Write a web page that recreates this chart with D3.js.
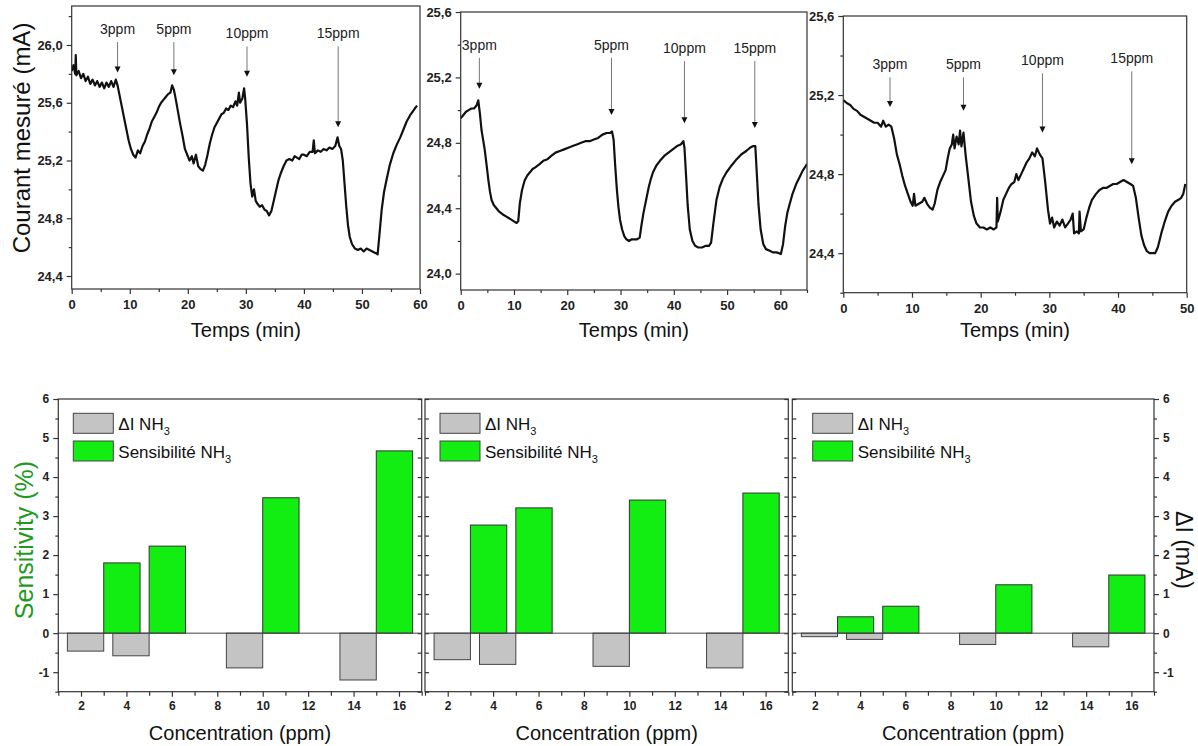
<!DOCTYPE html>
<html>
<head>
<meta charset="utf-8">
<script src="https://d3js.org/d3.v7.min.js"></script>
<style>
    body { margin: 0; background: #fff; }
    text { font-family: Arial, "Liberation Sans", sans-serif; }
</style>
</head>
<body>
<svg width="1198" height="746"></svg>
<script>
// courant mesuré (mA) en fonction du temps (min), un tableau [t, I] par capteur
var curve1 = [[0,25.82],[0.3,25.86],[0.6,25.80],[0.7,25.93],[0.8,25.79],[1.2,25.82],[1.6,25.77],[2.0,25.80],[2.4,25.75],[2.8,25.78],
    [3.2,25.73],[3.6,25.76],[4.0,25.72],[4.4,25.75],[4.8,25.71],[5.2,25.74],[5.6,25.70],[6.0,25.74],[6.4,25.71],[6.8,25.75],
    [7.2,25.71],[7.6,25.76],[7.9,25.72],[8.2,25.66],[8.6,25.58],[9.0,25.50],[9.4,25.42],[9.8,25.34],[10.2,25.28],[10.6,25.24],
    [11.0,25.22],[11.4,25.27],[11.8,25.25],[12.2,25.30],[12.6,25.33],[13.0,25.38],[13.4,25.42],[13.8,25.47],[14.2,25.50],[14.6,25.53],
    [15.0,25.57],[15.4,25.60],[15.8,25.62],[16.2,25.64],[16.6,25.66],[17.0,25.67],[17.3,25.72],[17.6,25.69],[17.9,25.63],[18.3,25.54],
    [18.7,25.45],[19.1,25.37],[19.5,25.28],[19.9,25.24],[20.3,25.20],[20.7,25.23],[21.0,25.18],[21.4,25.24],[21.8,25.16],[22.2,25.14],
    [22.6,25.13],[23.0,25.17],[23.4,25.24],[23.8,25.32],[24.2,25.38],[24.6,25.43],[25.0,25.46],[25.4,25.49],[25.8,25.52],[26.2,25.53],
    [26.6,25.56],[27.0,25.55],[27.4,25.58],[27.8,25.57],[28.2,25.61],[28.5,25.58],[28.8,25.67],[29.0,25.60],[29.4,25.63],[29.7,25.70],
    [29.9,25.62],[30.2,25.45],[30.5,25.22],[30.8,25.04],[31.1,24.95],[31.4,25.00],[31.7,24.92],[32.0,24.90],[32.4,24.88],[32.8,24.89],
    [33.2,24.86],[33.6,24.85],[34.0,24.82],[34.4,24.85],[34.8,24.92],[35.2,24.99],[35.6,25.06],[36.0,25.11],[36.5,25.16],[37.0,25.20],
    [37.5,25.21],[38.0,25.20],[38.4,25.23],[38.8,25.22],[39.2,25.21],[39.6,25.24],[40.0,25.24],[40.5,25.23],[41.0,25.26],[41.5,25.26],
    [41.7,25.34],[41.9,25.25],[42.4,25.27],[42.9,25.26],[43.4,25.28],[43.9,25.27],[44.4,25.29],[44.9,25.28],[45.4,25.30],[45.8,25.36],
    [46.1,25.30],[46.4,25.28],[46.7,25.20],[47.0,25.04],[47.3,24.88],[47.6,24.75],[47.9,24.67],[48.3,24.62],[48.8,24.59],[49.3,24.58],
    [49.8,24.59],[50.3,24.57],[50.8,24.59],[51.3,24.58],[51.8,24.57],[52.3,24.56],[52.7,24.55],[53.0,24.68],[53.4,24.86],[53.8,24.98],
    [54.2,25.06],[54.8,25.17],[55.4,25.25],[56.0,25.31],[56.6,25.36],[57.2,25.42],[57.7,25.47],[58.4,25.52],[59.1,25.56],[59.5,25.58]];

var curve2 = [[0,24.95],[0.5,24.97],[1.0,24.99],[1.5,25.00],[2.0,25.01],[2.5,25.01],[3.0,25.03],[3.3,25.06],[3.6,24.98],[3.9,24.88],
    [4.2,24.82],[4.5,24.76],[4.8,24.68],[5.2,24.57],[5.5,24.50],[5.8,24.45],[6.2,24.42],[6.7,24.40],[7.2,24.38],[7.6,24.37],
    [8.0,24.36],[8.5,24.35],[9.0,24.34],[9.5,24.33],[10.0,24.32],[10.5,24.31],[10.8,24.32],[11.1,24.43],[11.5,24.51],[12.0,24.57],
    [12.5,24.60],[13.0,24.62],[13.5,24.64],[14.0,24.65],[14.8,24.67],[15.5,24.69],[16.3,24.70],[17.0,24.72],[17.8,24.74],[18.6,24.75],
    [19.4,24.76],[20.2,24.77],[21.0,24.78],[21.8,24.79],[22.6,24.80],[23.4,24.81],[24.2,24.81],[25.0,24.82],[25.8,24.83],[26.6,24.85],
    [27.4,24.86],[28.0,24.86],[28.4,24.87],[28.7,24.82],[29.0,24.66],[29.3,24.52],[29.6,24.41],[29.9,24.33],[30.3,24.27],[30.7,24.23],
    [31.1,24.21],[31.6,24.20],[32.1,24.21],[32.6,24.21],[33.1,24.21],[33.6,24.22],[33.9,24.29],[34.3,24.37],[34.8,24.45],[35.3,24.53],
    [35.7,24.58],[36.1,24.62],[36.7,24.66],[37.4,24.69],[38.2,24.72],[39.0,24.74],[39.8,24.76],[40.6,24.78],[41.3,24.79],[41.8,24.81],
    [42.0,24.77],[42.3,24.60],[42.6,24.42],[43.0,24.27],[43.5,24.20],[44.0,24.17],[44.6,24.16],[45.3,24.16],[46.0,24.17],[46.6,24.17],
    [47.0,24.19],[47.4,24.30],[48.0,24.45],[48.6,24.53],[49.2,24.58],[49.9,24.62],[50.8,24.66],[51.8,24.70],[52.7,24.73],[53.6,24.75],
    [54.3,24.77],[54.9,24.78],[55.3,24.78],[55.6,24.60],[55.9,24.42],[56.3,24.27],[56.8,24.18],[57.3,24.15],[58.0,24.14],[58.6,24.13],
    [59.3,24.13],[60.1,24.12],[60.5,24.18],[60.9,24.29],[61.3,24.37],[61.7,24.42],[62.3,24.49],[63.0,24.55],[63.6,24.59],[64.2,24.63],
    [65.0,24.67]];

var curve3 = [[0,25.175],[0.5,25.16],[1.0,25.15],[1.5,25.13],[2.0,25.12],[2.5,25.10],[3.0,25.09],[3.5,25.08],[4.0,25.07],[4.5,25.06],
    [5.0,25.06],[5.5,25.04],[5.8,25.07],[6.2,25.04],[6.6,25.05],[7.0,25.04],[7.4,24.98],[7.8,24.90],[8.2,24.85],[8.6,24.79],
    [9.0,24.74],[9.4,24.70],[9.8,24.66],[10.1,24.64],[10.3,24.70],[10.5,24.64],[11.0,24.65],[11.5,24.66],[11.8,24.68],[12.2,24.65],
    [12.6,24.63],[13.0,24.62],[13.3,24.65],[13.7,24.72],[14.1,24.76],[14.5,24.79],[14.9,24.82],[15.2,24.88],[15.5,24.93],[15.8,24.95],
    [16.0,25.00],[16.2,24.93],[16.5,24.99],[16.8,24.95],[17.0,25.02],[17.2,24.94],[17.5,25.01],[17.8,24.90],[18.2,24.78],[18.6,24.66],
    [19.0,24.59],[19.4,24.55],[19.9,24.53],[20.4,24.53],[20.9,24.52],[21.4,24.53],[21.9,24.52],[22.3,24.53],[22.4,24.68],[22.5,24.56],
    [22.9,24.61],[23.3,24.67],[23.7,24.70],[24.1,24.73],[24.5,24.75],[24.9,24.76],[25.2,24.80],[25.5,24.77],[25.9,24.80],[26.3,24.83],
    [26.7,24.86],[27.1,24.88],[27.5,24.91],[27.9,24.89],[28.2,24.93],[28.6,24.90],[29.0,24.88],[29.4,24.76],[29.8,24.62],[30.1,24.55],
    [30.4,24.58],[30.7,24.53],[31.1,24.56],[31.5,24.54],[31.9,24.57],[32.3,24.53],[32.7,24.55],[33.1,24.57],[33.4,24.60],[33.6,24.50],
    [34.0,24.51],[34.3,24.50],[34.4,24.61],[34.6,24.51],[35.0,24.52],[35.4,24.58],[35.8,24.63],[36.2,24.67],[36.8,24.70],[37.3,24.72],
    [37.8,24.73],[38.3,24.73],[38.8,24.74],[39.3,24.75],[39.8,24.75],[40.3,24.76],[40.8,24.77],[41.3,24.76],[41.8,24.75],[42.2,24.74],
    [42.6,24.68],[43.0,24.58],[43.4,24.49],[43.8,24.44],[44.2,24.41],[44.6,24.40],[45.0,24.40],[45.4,24.40],[45.8,24.43],[46.3,24.50],
    [46.8,24.56],[47.3,24.61],[47.8,24.64],[48.3,24.66],[48.8,24.67],[49.2,24.68],[49.5,24.70],[49.8,24.75]];

// injections NH3 : [étiquette, t, I début flèche, I pointe]
var arrows1 = [["3ppm", 7.9, 26.02, 25.81], ["5ppm", 17.6, 26.02, 25.79], ["10ppm", 30.2, 25.99, 25.78], ["15ppm", 45.9, 25.99, 25.43]];
var arrows2 = [["3ppm", 3.5, 25.32, 25.13], ["5ppm", 28.3, 25.32, 24.97], ["10ppm", 42.0, 25.30, 24.92], ["15ppm", 55.2, 25.30, 24.89]];
var arrows3 = [["3ppm", 6.8, 25.29, 25.14], ["5ppm", 17.5, 25.29, 25.12], ["10ppm", 29.0, 25.31, 25.01], ["15ppm", 42.0, 25.32, 24.85]];

var timeTicks1 = [0, 10, 20, 30, 40, 50, 60];
var timeTicks2 = [0, 10, 20, 30, 40, 50, 60];
var timeTicks3 = [0, 10, 20, 30, 40, 50];
var currentTicks1 = [24.4, 24.8, 25.2, 25.6, 26.0];
var currentTicks2 = [24.0, 24.4, 24.8, 25.2, 25.6];
var currentTicks3 = [24.4, 24.8, 25.2, 25.6];

// histogrammes : sensibilité (%) et ΔI (mA)
var concentrations = [3, 5, 10, 15];
var sensA = [1.80, 2.23, 3.47, 4.67];
var deltaA = [-0.46, -0.58, -0.89, -1.20];
var sensB = [2.77, 3.21, 3.41, 3.59];
var deltaB = [-0.68, -0.80, -0.85, -0.89];
var sensC = [0.42, 0.69, 1.24, 1.49];
var deltaC = [-0.09, -0.16, -0.29, -0.35];
var concTicks = [2, 4, 6, 8, 10, 12, 14, 16];
var sensTicks = [-1, 0, 1, 2, 3, 4, 5, 6];

var svg = d3.select("svg");
var frameColor = "#333";
var comma = function(d) { return d3.format(".1f")(d).replace(".", ","); };
var plain = function(d) { return String(d); };

function styleAxis(sel, size) {
    sel.select(".domain").remove();
    sel.selectAll("line").attr("stroke", frameColor).attr("stroke-width", 1.2);
    sel.selectAll("text")
        .attr("font-family", "Arial, 'Liberation Sans', sans-serif")
        .attr("font-size", size)
        .attr("font-weight", "bold")
        .attr("fill", "#222");
}

function minorsOf(ticks, domain) {
    var step = (ticks[1] - ticks[0]) / 2;
    var out = [];
    var lo = Math.min(domain[0], domain[1]), hi = Math.max(domain[0], domain[1]);
    ticks.forEach(function(t) {
        [t - step, t + step].forEach(function(m) {
            m = Math.round(m * 1000) / 1000;
            if (m >= lo && m <= hi && ticks.indexOf(m) < 0 && out.indexOf(m) < 0) out.push(m);
        });
    });
    return out;
}

function drawTrace(cfg, i) {
    var x = d3.scaleLinear().domain(cfg.xDomain).range([cfg.left, cfg.right]);
    var y = d3.scaleLinear().domain(cfg.yDomain).range([cfg.bottom, cfg.top]);
    var g = svg.append("g");

    g.append("clipPath").attr("id", "clip" + i)
        .append("rect")
        .attr("x", cfg.left).attr("y", cfg.top)
        .attr("width", cfg.right - cfg.left).attr("height", cfg.bottom - cfg.top);

    g.append("g")
        .attr("transform", "translate(0," + cfg.bottom + ")")
        .call(d3.axisBottom(x).tickValues(cfg.xTicks).tickSize(5).tickPadding(6).tickFormat(plain))
        .call(styleAxis, 13);
    g.append("g")
        .attr("transform", "translate(0," + cfg.bottom + ")")
        .call(d3.axisBottom(x).tickValues(minorsOf(cfg.xTicks, cfg.xDomain)).tickSize(3).tickFormat(""))
        .call(styleAxis, 13);
    g.append("g")
        .attr("transform", "translate(" + cfg.left + ",0)")
        .call(d3.axisLeft(y).tickValues(cfg.yTicks).tickSize(5).tickPadding(4).tickFormat(comma))
        .call(styleAxis, 13);
    g.append("g")
        .attr("transform", "translate(" + cfg.left + ",0)")
        .call(d3.axisLeft(y).tickValues(minorsOf(cfg.yTicks, cfg.yDomain)).tickSize(3).tickFormat(""))
        .call(styleAxis, 13);

    g.append("path")
        .datum(cfg.data)
        .attr("clip-path", "url(#clip" + i + ")")
        .attr("fill", "none")
        .attr("stroke", "#111")
        .attr("stroke-width", 2.2)
        .attr("stroke-linejoin", "round")
        .attr("d", d3.line()
            .x(function(d) { return x(d[0]); })
            .y(function(d) { return y(d[1]); }));

    g.append("rect")
        .attr("x", cfg.left).attr("y", cfg.top)
        .attr("width", cfg.right - cfg.left).attr("height", cfg.bottom - cfg.top)
        .attr("fill", "none").attr("stroke", frameColor).attr("stroke-width", 1.2);

    var arr = g.selectAll(".arrow").data(cfg.arrows).enter().append("g");
    arr.append("line")
        .attr("x1", function(d) { return x(d[1]); })
        .attr("x2", function(d) { return x(d[1]); })
        .attr("y1", function(d) { return y(d[2]); })
        .attr("y2", function(d) { return y(d[3]) - 5; })
        .attr("stroke", "#777").attr("stroke-width", 1);
    arr.append("path")
        .attr("d", function(d) {
            var px = x(d[1]), py = y(d[3]);
            return "M" + (px - 3) + "," + (py - 6) + "L" + (px + 3) + "," + (py - 6) + "L" + px + "," + py + "Z";
        })
        .attr("fill", "#111");
    arr.append("text")
        .attr("x", function(d) { return x(d[1]); })
        .attr("y", function(d) { return y(d[2]) - 8; })
        .attr("text-anchor", "middle")
        .attr("font-size", 14)
        .attr("fill", "#222")
        .text(function(d) { return d[0]; });

    g.append("text")
        .attr("x", (cfg.left + cfg.right) / 2)
        .attr("y", 337)
        .attr("text-anchor", "middle")
        .attr("font-size", 20)
        .attr("fill", "#111")
        .text("Temps (min)");
}

var traces = [
    {data: curve1, arrows: arrows1, xDomain: [0, 60], yDomain: [24.31, 26.27], xTicks: timeTicks1, yTicks: currentTicks1,
        left: 71.7, right: 420, top: 6, bottom: 289},
    {data: curve2, arrows: arrows2, xDomain: [0, 65], yDomain: [23.9, 25.6], xTicks: timeTicks2, yTicks: currentTicks2,
        left: 460.7, right: 807, top: 12, bottom: 290},
    {data: curve3, arrows: arrows3, xDomain: [0, 50], yDomain: [24.2, 25.6], xTicks: timeTicks3, yTicks: currentTicks3,
        left: 843.3, right: 1186.7, top: 16, bottom: 292.7}
];
traces.forEach(drawTrace);

svg.append("text")
    .attr("transform", "translate(22,138) rotate(-90)")
    .attr("dy", "0.35em")
    .attr("text-anchor", "middle")
    .attr("font-size", 24)
    .attr("fill", "#111")
    .text("Courant mesuré (mA)");

// histogrammes
var barTop = 399, barBottom = 691.7, barWidth = 1.6;
var panels = [
    {sens: sensA, delta: deltaA, left: 58.3, right: 421.7, legendX: 73.3, leftAxis: true},
    {sens: sensB, delta: deltaB, left: 425, right: 788.3, legendX: 440},
    {sens: sensC, delta: deltaC, left: 792.3, right: 1154, legendX: 812.7, rightAxis: true}
];

panels.forEach(function(p) {
    var x = d3.scaleLinear().domain([1, 17]).range([p.left, p.right]);
    var y = d3.scaleLinear().domain([-1.5, 6]).range([barBottom, barTop]);
    var g = svg.append("g");
    var yMinor = minorsOf(sensTicks, [-1.5, 6]);

    g.append("g")
        .attr("transform", "translate(0," + barBottom + ")")
        .call(d3.axisBottom(x).tickValues(concTicks).tickSize(5).tickPadding(5).tickFormat(plain))
        .call(styleAxis, 12);
    g.append("g")
        .attr("transform", "translate(0," + barBottom + ")")
        .call(d3.axisBottom(x).tickValues(minorsOf(concTicks, [1, 17])).tickSize(4).tickFormat(""))
        .call(styleAxis, 12);

    if (p.leftAxis) {
        g.append("g")
            .attr("transform", "translate(" + p.left + ",0)")
            .call(d3.axisLeft(y).tickValues(sensTicks).tickSize(5).tickPadding(4).tickFormat(plain))
            .call(styleAxis, 12);
        g.append("g")
            .attr("transform", "translate(" + p.left + ",0)")
            .call(d3.axisLeft(y).tickValues(yMinor).tickSize(3).tickFormat(""))
            .call(styleAxis, 12);
    } else {
        g.append("g")
            .attr("transform", "translate(" + p.left + ",0)")
            .call(d3.axisRight(y).tickValues(sensTicks.concat(yMinor)).tickSize(4).tickFormat(""))
            .call(styleAxis, 12);
    }
    if (p.rightAxis) {
        g.append("g")
            .attr("transform", "translate(" + p.right + ",0)")
            .call(d3.axisRight(y).tickValues(sensTicks).tickSize(5).tickPadding(4).tickFormat(plain))
            .call(styleAxis, 12);
        g.append("g")
            .attr("transform", "translate(" + p.right + ",0)")
            .call(d3.axisRight(y).tickValues(yMinor).tickSize(3).tickFormat(""))
            .call(styleAxis, 12);
    } else {
        g.append("g")
            .attr("transform", "translate(" + p.right + ",0)")
            .call(d3.axisLeft(y).tickValues(sensTicks.concat(yMinor)).tickSize(4).tickFormat(""))
            .call(styleAxis, 12);
    }

    g.selectAll(".delta").data(p.delta).enter().append("rect")
        .attr("x", function(d, i) { return x(concentrations[i] - barWidth); })
        .attr("width", function(d, i) { return x(concentrations[i]) - x(concentrations[i] - barWidth); })
        .attr("y", y(0))
        .attr("height", function(d) { return y(d) - y(0); })
        .attr("fill", "#c4c4c4").attr("stroke", "#444").attr("stroke-width", 1);

    g.selectAll(".sens").data(p.sens).enter().append("rect")
        .attr("x", function(d, i) { return x(concentrations[i]); })
        .attr("width", function(d, i) { return x(concentrations[i] + barWidth) - x(concentrations[i]); })
        .attr("y", function(d) { return y(d); })
        .attr("height", function(d) { return y(0) - y(d); })
        .attr("fill", "#12ee12").attr("stroke", "#333").attr("stroke-width", 1);

    g.append("line")
        .attr("x1", p.left).attr("x2", p.right)
        .attr("y1", y(0)).attr("y2", y(0))
        .attr("stroke", "#444").attr("stroke-width", 1);

    g.append("rect")
        .attr("x", p.left).attr("y", barTop)
        .attr("width", p.right - p.left).attr("height", barBottom - barTop)
        .attr("fill", "none").attr("stroke", frameColor).attr("stroke-width", 1.2);

    // légende
    var leg = [["#c4c4c4", "\u0394I NH"], ["#12ee12", "Sensibilité NH"]];
    leg.forEach(function(l, k) {
        var ly = 413.3 + k * 27.7;
        g.append("rect")
            .attr("x", p.legendX).attr("y", ly)
            .attr("width", 40).attr("height", 20)
            .attr("fill", l[0]).attr("stroke", "#444").attr("stroke-width", 1);
        var t = g.append("text")
            .attr("x", p.legendX + 45).attr("y", ly + 17)
            .attr("font-size", 17).attr("fill", "#111");
        t.append("tspan").text(l[1]);
        t.append("tspan").attr("dy", 5).attr("font-size", 11).text("3");
    });

    g.append("text")
        .attr("x", (p.left + p.right) / 2)
        .attr("y", 740)
        .attr("text-anchor", "middle")
        .attr("font-size", 20)
        .attr("fill", "#111")
        .text("Concentration (ppm)");
});

svg.append("text")
    .attr("transform", "translate(24,540) rotate(-90)")
    .attr("dy", "0.35em")
    .attr("text-anchor", "middle")
    .attr("font-size", 25)
    .attr("fill", "#1f9a1f")
    .text("Sensitivity (%)");

svg.append("text")
    .attr("transform", "translate(1184,550) rotate(90)")
    .attr("dy", "0.35em")
    .attr("text-anchor", "middle")
    .attr("font-size", 23)
    .attr("fill", "#111")
    .text("\u0394I (mA)");
</script>
</body>
</html>
